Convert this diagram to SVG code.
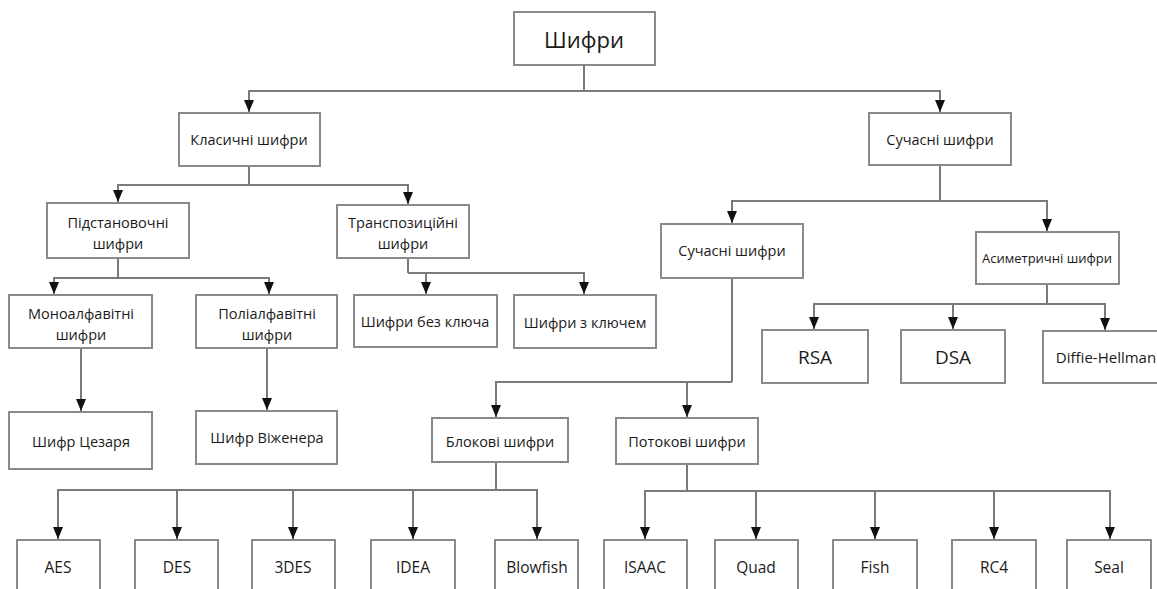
<svg xmlns="http://www.w3.org/2000/svg" width="1157" height="589" viewBox="0 0 1157 589">
<style>
.b{fill:#fff;stroke:#8a8a8a;stroke-width:2}
.t{font-family:"Open Sans","Noto Sans","Liberation Sans",sans-serif;font-size:14.5px;fill:#1a1a1a;text-anchor:middle;dominant-baseline:central}
.c{fill:none;stroke:#7a7a7a;stroke-width:2;marker-end:url(#ar)}
.l{fill:none;stroke:#7a7a7a;stroke-width:2}
</style>
<defs>
<marker id="ar" markerUnits="userSpaceOnUse" markerWidth="12" markerHeight="10" refX="12" refY="5" orient="auto" viewBox="0 0 12 10">
<path d="M0,0 L12,5 L0,10 z" fill="#111"/>
</marker>
</defs>
<rect width="1157" height="589" fill="#fff"/>
<g id="connectors">
<path class="l" d="M584,65 V91"/>
<path class="c" d="M584,91 H249 V112"/>
<path class="c" d="M584,91 H940 V112"/>
<path class="l" d="M249,166 V185"/>
<path class="c" d="M249,185 H118 V202"/>
<path class="c" d="M249,185 H408 V204"/>
<path class="l" d="M118,258 V278"/>
<path class="c" d="M118,278 H54 V294"/>
<path class="c" d="M118,278 H269 V294"/>
<path class="l" d="M408,258 V273"/>
<path class="c" d="M408,273 H426 V294"/>
<path class="c" d="M408,273 H584 V294"/>
<path class="c" d="M81,348 V411"/>
<path class="c" d="M267,348 V410"/>
<path class="l" d="M940,165 V201"/>
<path class="c" d="M940,201 H732 V223"/>
<path class="c" d="M940,201 H1047 V231"/>
<path class="l" d="M1047,284 V304"/>
<path class="c" d="M1047,304 H814 V329"/>
<path class="c" d="M1047,304 H953 V329"/>
<path class="c" d="M1047,304 H1105 V330"/>
<path class="l" d="M732,278 V382"/>
<path class="c" d="M732,382 H496 V417"/>
<path class="c" d="M732,382 H687 V417"/>
<path class="l" d="M496,462 V490"/>
<path class="c" d="M496,490 H58 V539"/>
<path class="c" d="M496,490 H177 V539"/>
<path class="c" d="M496,490 H293 V539"/>
<path class="c" d="M496,490 H413 V539"/>
<path class="c" d="M496,490 H537 V539"/>
<path class="l" d="M687,464 V491"/>
<path class="c" d="M687,491 H645 V539"/>
<path class="c" d="M687,491 H756 V539"/>
<path class="c" d="M687,491 H875 V539"/>
<path class="c" d="M687,491 H994 V539"/>
<path class="c" d="M687,491 H1110 V539"/>
</g>
<g id="root"><rect class="b" x="514" y="12" width="141" height="53"/><text class="t" x="584" y="39" style="font-size:22px">Шифри</text></g>
<g id="classic"><rect class="b" x="179" y="113" width="141" height="53"/><text class="t" x="249" y="139">Класичні шифри</text></g>
<g id="modern"><rect class="b" x="869" y="113" width="142" height="52"/><text class="t" x="940" y="139">Сучасні шифри</text></g>
<g id="subst"><rect class="b" x="47" y="203" width="142" height="55"/><text class="t" x="118" y="222">Підстановочні</text><text class="t" x="118" y="243">шифри</text></g>
<g id="transp"><rect class="b" x="337" y="205" width="132" height="53"/><text class="t" x="403" y="222">Транспозиційні</text><text class="t" x="403" y="243">шифри</text></g>
<g id="mono"><rect class="b" x="9" y="295" width="143" height="53"/><text class="t" x="81" y="313">Моноалфавітні</text><text class="t" x="81" y="334">шифри</text></g>
<g id="poly"><rect class="b" x="196" y="295" width="141" height="53"/><text class="t" x="267" y="313">Поліалфавітні</text><text class="t" x="267" y="334">шифри</text></g>
<g id="nokey"><rect class="b" x="354" y="295" width="143" height="52"/><text class="t" x="425" y="321">Шифри без ключа</text></g>
<g id="withkey"><rect class="b" x="514" y="295" width="142" height="53"/><text class="t" x="585" y="322">Шифри з ключем</text></g>
<g id="caesar"><rect class="b" x="9" y="412" width="143" height="57"/><text class="t" x="81" y="441">Шифр Цезаря</text></g>
<g id="vigenere"><rect class="b" x="196" y="411" width="141" height="53"/><text class="t" x="267" y="437">Шифр Віженера</text></g>
<g id="modern2"><rect class="b" x="661" y="224" width="142" height="54"/><text class="t" x="732" y="250">Сучасні шифри</text></g>
<g id="asym"><rect class="b" x="976" y="232" width="143" height="52"/><text class="t" x="1047" y="258" style="font-size:13px">Асиметричні шифри</text></g>
<g id="rsa"><rect class="b" x="762" y="330" width="106" height="53"/><text class="t" x="815" y="357" style="font-size:19px">RSA</text></g>
<g id="dsa"><rect class="b" x="901" y="330" width="104" height="53"/><text class="t" x="953" y="357" style="font-size:19px">DSA</text></g>
<g id="dh"><rect class="b" x="1043" y="331" width="130" height="52"/><text class="t" x="1106" y="357" style="font-size:15px">Diffie-Hellman</text></g>
<g id="block"><rect class="b" x="432" y="418" width="136" height="44"/><text class="t" x="500" y="441">Блокові шифри</text></g>
<g id="stream"><rect class="b" x="616" y="418" width="142" height="46"/><text class="t" x="687" y="441">Потокові шифри</text></g>
<g id="aes"><rect class="b" x="17" y="540" width="83" height="60"/><text class="t" x="58" y="567" style="font-size:15.5px">AES</text></g>
<g id="des"><rect class="b" x="135" y="540" width="83" height="60"/><text class="t" x="177" y="567" style="font-size:15.5px">DES</text></g>
<g id="3des"><rect class="b" x="252" y="540" width="83" height="60"/><text class="t" x="293" y="567" style="font-size:15.5px">3DES</text></g>
<g id="idea"><rect class="b" x="371" y="540" width="84" height="60"/><text class="t" x="413" y="567" style="font-size:15.5px">IDEA</text></g>
<g id="blowfish"><rect class="b" x="495" y="540" width="83" height="60"/><text class="t" x="537" y="567" style="font-size:15.5px">Blowfish</text></g>
<g id="isaac"><rect class="b" x="604" y="540" width="83" height="60"/><text class="t" x="645" y="567" style="font-size:15.5px">ISAAC</text></g>
<g id="quad"><rect class="b" x="715" y="540" width="83" height="60"/><text class="t" x="756" y="567" style="font-size:15.5px">Quad</text></g>
<g id="fish"><rect class="b" x="833" y="540" width="84" height="60"/><text class="t" x="875" y="567" style="font-size:15.5px">Fish</text></g>
<g id="rc4"><rect class="b" x="952" y="540" width="84" height="60"/><text class="t" x="994" y="567" style="font-size:15.5px">RC4</text></g>
<g id="seal"><rect class="b" x="1067" y="540" width="84" height="60"/><text class="t" x="1109" y="567" style="font-size:15.5px">Seal</text></g>
</svg>
